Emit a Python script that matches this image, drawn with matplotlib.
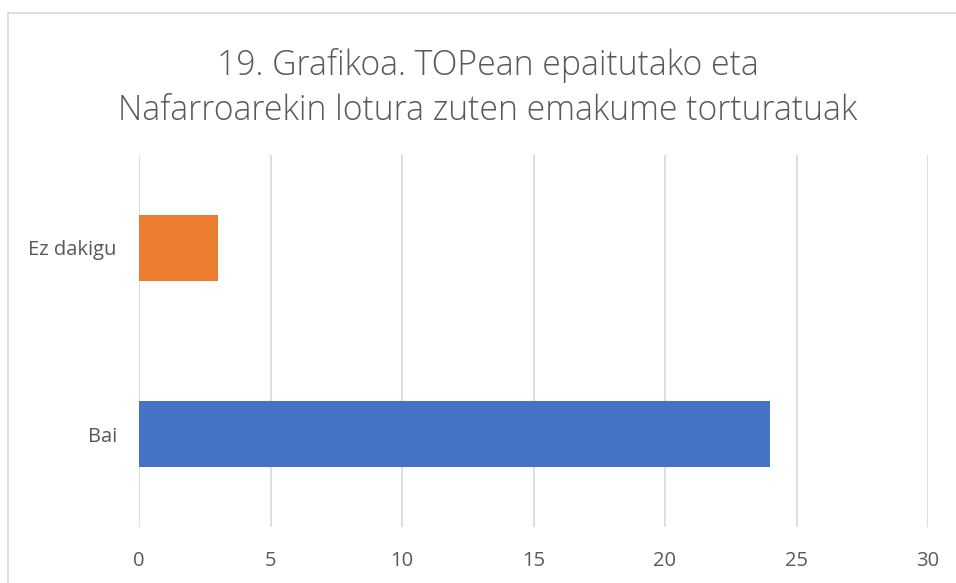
import matplotlib
matplotlib.use("Agg")
import matplotlib.pyplot as plt
from matplotlib.lines import Line2D

# 数据
categories = ["Bai", "Ez dakigu"]
values = [24, 3]
bar_colors = ["#4472C4", "#ED7D31"]
x_ticks = [0, 5, 10, 15, 20, 25, 30]
title = "19. Grafikoa. TOPean epaitutako eta\nNafarroarekin lotura zuten emakume torturatuak"

plt.rcParams["font.family"] = ["Open Sans", "DejaVu Sans"]
text_color = "#595959"

fig = plt.figure(figsize=(9.56, 5.83), dpi=100)
ax = fig.add_axes([139 / 956, 1 - 527 / 583, (928 - 139) / 956, (527 - 155) / 583])

ax.barh(range(len(categories)), values, height=0.36, color=bar_colors, zorder=3)
ax.set_xlim(0, 30)
ax.set_ylim(-0.5, len(categories) - 0.5)
ax.set_xticks(x_ticks)
ax.set_yticks(range(len(categories)))
ax.set_yticklabels(categories)

ax.grid(axis="x", color="#D9D9D9", linewidth=1.2, zorder=0)
for s in ax.spines.values():
    s.set_visible(False)
ax.tick_params(length=0, colors=text_color, labelsize=14.5)
ax.tick_params(axis="x", pad=17)
ax.tick_params(axis="y", pad=16)

fig.text(488 / 956, 1 - 88 / 583, title, ha="center", va="center", fontsize=24.3,
         color=text_color, linespacing=1.4, fontweight="light")

# 外框（左、上）
fig.add_artist(Line2D([8 / 956, 8 / 956], [0, 1 - 12.5 / 583], color="#D9D9D9", linewidth=1.2))
fig.add_artist(Line2D([8 / 956, 1], [1 - 12.5 / 583, 1 - 12.5 / 583], color="#D9D9D9", linewidth=1.2))

fig.savefig("out.png", dpi=100)
